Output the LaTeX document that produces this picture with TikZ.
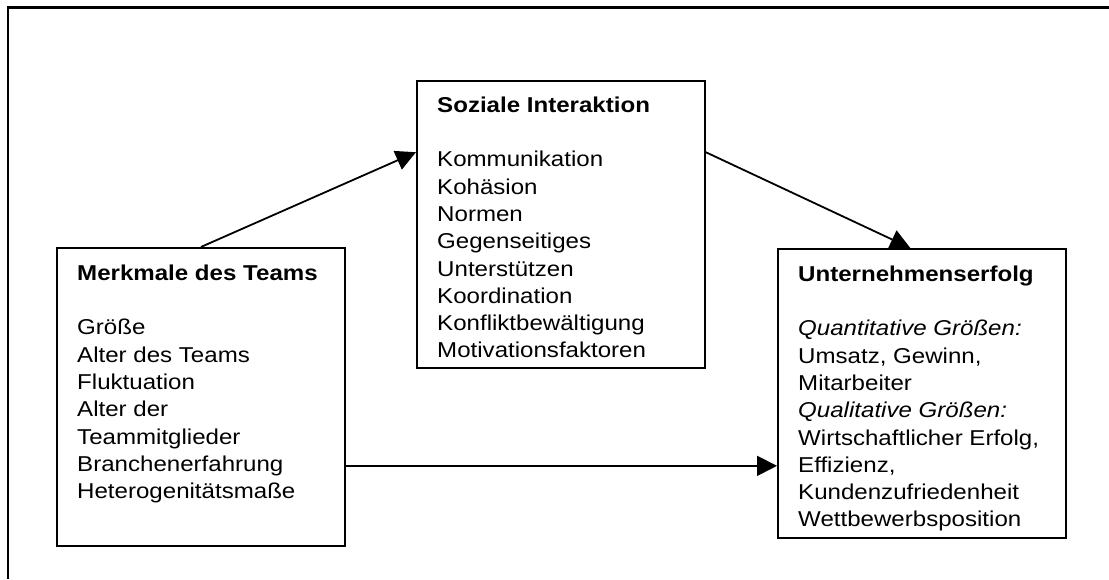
\documentclass[tikz,border=0pt]{standalone}
\usepackage{fontspec}
\setmainfont{Liberation Sans}
\usetikzlibrary{arrows.meta,calc}
\tikzset{
    %Define standard arrow tip
    >={Triangle[length=20pt,width=20pt]},
    %Define style for boxes
    kasten/.style={
           rectangle,
           draw=black, line width=1.8pt,
           anchor=north west,
           inner sep=0pt},
    %Define style for box texts
    inhalt/.style={
           anchor=north west,
           inner sep=0pt,
           align=left,
           xscale=1.12,
           font=\fontsize{21.5}{27.3}\selectfont},
    % Define arrow style
    pfeil/.style={
           ->,
           line width=1.8pt}
}
\begin{document}
\begin{tikzpicture}[x=1pt,y=-1pt]
\useasboundingbox (0,0) rectangle (1109,579);
% frame
\draw[line width=2.4pt] (1109,7.5) -- (8,7.5) -- (8,579);
% boxes
\node[kasten, minimum width=288pt, minimum height=298pt] (merkmale) at (56,247) {};
\node[kasten, minimum width=288pt, minimum height=287pt] (interaktion) at (416,80) {};
\node[kasten, minimum width=288pt, minimum height=289pt] (erfolg) at (777,248) {};
% texts
\node[inhalt] (merkmaletext) at ([shift={(21,17.5)}]merkmale.north west)
    {\textbf{Merkmale des Teams}\\[27.3pt]
     Größe\\ Alter des Teams\\ Fluktuation\\ Alter der\\ Teammitglieder\\
     Branchenerfahrung\\ Heterogenitätsmaße};
\node[inhalt] (interaktiontext) at ([shift={(21,16.5)}]interaktion.north west)
    {\textbf{Soziale Interaktion}\\[27.3pt]
     Kommunikation\\ Kohäsion\\ Normen\\ Gegenseitiges\\ Unterstützen\\
     Koordination\\ Konfliktbewältigung\\ Motivationsfaktoren};
\node[inhalt] (erfolgtext) at ([shift={(21,17.5)}]erfolg.north west)
    {\textbf{Unternehmenserfolg}\\[27.3pt]
     \textit{Quantitative Größen:}\\ Umsatz, Gewinn,\\ Mitarbeiter\\
     \textit{Qualitative Größen:}\\ Wirtschaftlicher Erfolg,\\ Effizienz,\\
     Kundenzufriedenheit\\ Wettbewerbsposition};
% arrows
\draw[pfeil] (merkmale.north) -- ($(interaktion.north west)!0.25!(interaktion.south west)$);
\draw[pfeil] ($(interaktion.north east)!0.25!(interaktion.south east)$) -- ($(erfolg.north west)!0.46!(erfolg.north east)$);
\draw[pfeil] ($(merkmale.north east)!0.73!(merkmale.south east)$) coordinate (abzweig) -- (abzweig -| erfolg.west);
\end{tikzpicture}
\end{document}
